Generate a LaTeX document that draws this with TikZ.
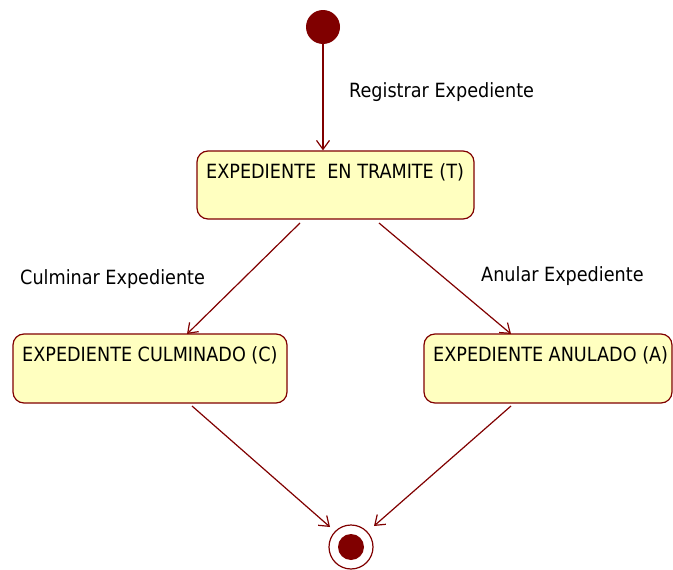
\documentclass[tikz,border=0pt]{standalone}
\usepackage{fontspec}
\setmainfont{DejaVu Sans Condensed}
\usetikzlibrary{arrows.meta}
\definecolor{dred}{RGB}{128,0,0}
\definecolor{sfill}{RGB}{255,255,192}
\begin{document}
\begin{tikzpicture}[x=1pt,y=-1pt,
  statebox/.style={draw=dred, line width=1.2pt, fill=sfill, rounded corners=11pt},
  stxt/.style={anchor=west, inner sep=0pt, font=\fontsize{19.6}{22}\selectfont},
  lbl/.style={anchor=west, inner sep=0pt, font=\fontsize{19.6}{22}\selectfont},
  trans/.style={draw=dred, line width=1.2pt, -{Straight Barb[length=9pt,width=13pt,line width=1.2pt]}}]
\useasboundingbox (0,0) rectangle (673,570);
% initial
\node[circle, fill=dred, minimum size=34pt, inner sep=0pt] (init) at (323,27) {};
% states
\node[statebox, minimum width=277pt, minimum height=68pt, inner sep=0pt] (T) at (335.5,185) {};
\node[stxt] (Tt) at (206,172) {EXPEDIENTE\ \ EN TRAMITE (T)};
\node[statebox, minimum width=274pt, minimum height=69pt, inner sep=0pt] (C) at (150,368.5) {};
\node[stxt] (Ct) at (22,355) {EXPEDIENTE CULMINADO (C)};
\node[statebox, minimum width=248pt, minimum height=69pt, inner sep=0pt] (A) at (548,368.5) {};
\node[stxt] (At) at (433,355) {EXPEDIENTE ANULADO (A)};
% final
\node[circle, draw=dred, line width=1.2pt, fill=white, minimum size=44pt, inner sep=0pt] (fin) at (351,547) {};
\node[circle, fill=dred, minimum size=26pt, inner sep=0pt] (finin) at (351,547) {};
% coordinates
\coordinate (t1) at (300,223);
\coordinate (t2) at (379,223);
\coordinate (c1) at (187,334);
\coordinate (a1) at (511,334);
\coordinate (c2) at (192,406);
\coordinate (a2) at (511,406);
\coordinate (f1) at (330,527);
\coordinate (f2) at (374,526);
% transitions
\draw[trans] (init.south) -- (T.north -| init.south);
\draw[trans] (t1) -- (c1);
\draw[trans] (t2) -- (a1);
\draw[trans] (c2) -- (f1);
\draw[trans] (a2) -- (f2);
% labels
\node[lbl] (l1) at (349,92) {Registrar Expediente};
\node[lbl] (l2) at (20,279) {Culminar Expediente};
\node[lbl] (l3) at (481,276) {Anular Expediente};
\end{tikzpicture}
\end{document}
